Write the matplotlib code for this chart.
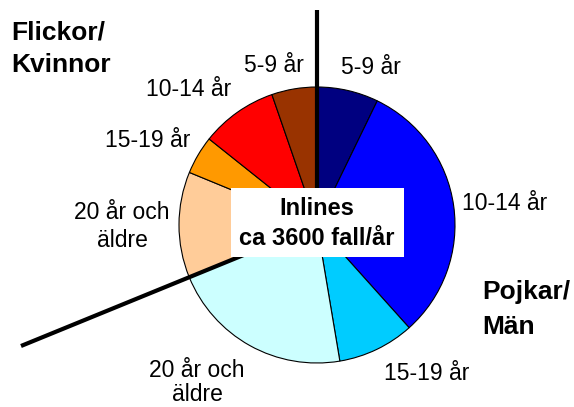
import matplotlib
matplotlib.use("Agg")
import matplotlib.pyplot as plt
from matplotlib.patches import Rectangle

plt.rcParams['font.family'] = ['Liberation Sans', 'DejaVu Sans']

# Data (percent of ~3600 cases/year), clockwise from 12 o'clock
categories = ["Pojkar 5-9 år", "Pojkar 10-14 år", "Pojkar 15-19 år", "Män 20 år och äldre",
              "Kvinnor 20 år och äldre", "Flickor 15-19 år", "Flickor 10-14 år", "Flickor 5-9 år"]
values = [7.2, 31.2, 9.0, 21.5, 12.4, 4.5, 9.0, 5.3]
colors = ["#000080", "#0000FF", "#00CCFF", "#CCFFFF", "#FFCC99", "#FF9900", "#FF0000", "#993300"]

W, H = 574, 407
fig = plt.figure(figsize=(W / 100, H / 100), dpi=100)
ax = fig.add_axes([0, 0, 1, 1])

def Y(yp):
    return H - yp

cx, cy, r = 317, Y(225), 138
ax.pie(values, colors=colors, startangle=90, counterclock=False,
       center=(cx, cy), radius=r,
       wedgeprops=dict(edgecolor="black", linewidth=0.8))
ax.set_xlim(0, W)
ax.set_ylim(0, H)
ax.set_aspect('equal')
ax.axis('off')

# Divider lines
ax.plot([317, 317], [Y(10), cy], color="black", lw=3, solid_capstyle='butt', zorder=5)
ax.plot([21, cx], [Y(346), cy], color="black", lw=3, solid_capstyle='butt', zorder=5)

# Center box
ax.add_patch(Rectangle((231, Y(257)), 173, 69, facecolor="white", edgecolor="none", zorder=6))
ax.text(317, Y(215), "Inlines", ha="center", va="baseline", fontsize=17, fontweight="bold", zorder=7)
ax.text(317, Y(245), "ca 3600 fall/år", ha="center", va="baseline", fontsize=17, fontweight="bold", zorder=7)

fs = 16.5
labels = [
    (341, 74, "5-9 år", "left"),
    (244, 72, "5-9 år", "left"),
    (146, 96, "10-14 år", "left"),
    (105, 147, "15-19 år", "left"),
    (122, 219, "20 år och", "center"),
    (122, 247, "äldre", "center"),
    (462, 210, "10-14 år", "left"),
    (384, 380, "15-19 år", "left"),
    (197, 377, "20 år och", "center"),
    (197, 401, "äldre", "center"),
]
for x, y, s, ha in labels:
    ax.text(x, Y(y), s, ha=ha, va="baseline", fontsize=fs, zorder=7)

bfs = 19
ax.text(11, Y(39), "Flickor/", ha="left", va="baseline", fontsize=bfs, fontweight="bold")
ax.text(11, Y(72), "Kvinnor", ha="left", va="baseline", fontsize=bfs, fontweight="bold")
ax.text(482, Y(299), "Pojkar/", ha="left", va="baseline", fontsize=bfs, fontweight="bold")
ax.text(482, Y(334), "Män", ha="left", va="baseline", fontsize=bfs, fontweight="bold")

fig.savefig("out.png", dpi=100)
